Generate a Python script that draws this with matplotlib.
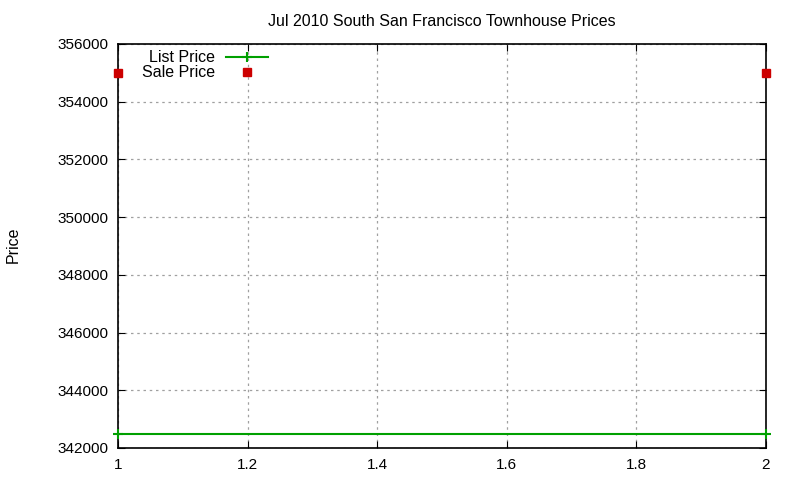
import matplotlib
matplotlib.use("Agg")
import matplotlib.pyplot as plt
from matplotlib.ticker import FormatStrFormatter, MultipleLocator

plt.rcParams['font.family'] = ['Liberation Sans', 'DejaVu Sans']

# data
list_x = [1, 2]
list_price = [342500, 342500]
sale_x = [1, 2]
sale_price = [355000, 355000]

title = "Jul 2010 South San Francisco Townhouse Prices"

fig = plt.figure(figsize=(8, 4.8), dpi=100)
ax = fig.add_axes([0.1475, 0.0667, 0.81, 0.8417])

ax.plot(list_x, list_price, color='#00a000', lw=1.5, marker='+', ms=7,
        mew=1.5, label='List Price', clip_on=False, zorder=3)
ax.plot(sale_x, sale_price, color='#cc0000', ls='none', marker='s', ms=6,
        label='Sale Price', clip_on=False, zorder=4)

ax.set_xlim(1, 2)
ax.set_ylim(342000, 356000)
ax.xaxis.set_major_locator(MultipleLocator(0.2))
ax.yaxis.set_major_locator(MultipleLocator(2000))
ax.xaxis.set_major_formatter(FormatStrFormatter('%g'))
ax.yaxis.set_major_formatter(FormatStrFormatter('%d'))

ax.grid(True, color='#a0a0a0', linestyle=(0, (2, 3)), linewidth=0.9)
ax.tick_params(direction='in', top=True, right=True, length=5,
               labelsize=11, colors='black', pad=7)
for s in ax.spines.values():
    s.set_linewidth(1.2)

ax.set_title(title, fontsize=11.5, pad=13)
fig.text(0.017, 0.49, 'Price', rotation=90, fontsize=11.5, va='center', ha='center')

ax.legend(loc='upper left', bbox_to_anchor=(0.027, 1.0), markerfirst=False,
          frameon=False, fontsize=11.5, handlelength=2.6, handletextpad=0.7,
          labelspacing=0.0, borderaxespad=0)

fig.savefig('out.png', dpi=100)
